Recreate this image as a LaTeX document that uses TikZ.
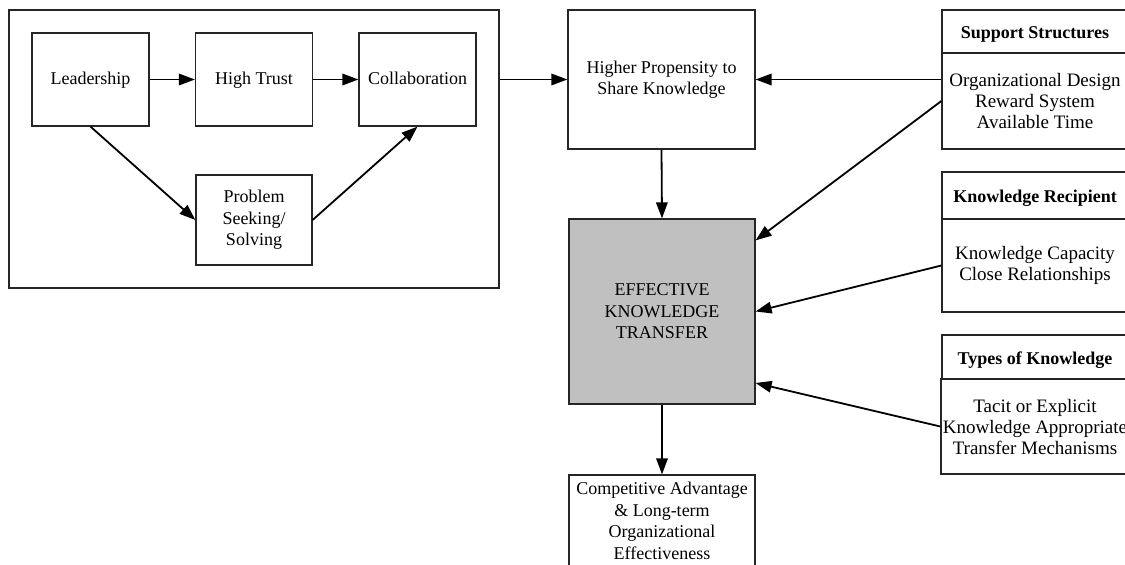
\documentclass[tikz,border=0pt]{standalone}
\usepackage{fontspec}
\setmainfont{Liberation Serif}
\usetikzlibrary{arrows.meta,calc}
\definecolor{ektgray}{RGB}{192,192,192}
\begin{document}
\begin{tikzpicture}[x=1pt,y=-1pt,
  box/.style={draw=black!85, line width=1.2pt, align=center, inner sep=2pt,
              font=\fontsize{18}{21.5}\selectfont},
  small/.style={box, minimum width=117pt, minimum height=93pt,
                text height=14pt, text depth=4pt},
  head/.style={box, minimum width=186pt, text height=18pt, text depth=4pt,
               font=\fontsize{18}{21.5}\selectfont\bfseries},
  body/.style={box, minimum width=186pt, font=\fontsize{19}{21}\selectfont},
  arr/.style={-{Triangle[length=16pt,width=11.5pt]}, line width=1.8pt},
]
\useasboundingbox (0,0) rectangle (1125,565);
\begin{scope}
\clip (0,0) rectangle (1125,565);

% left group
\node[box, minimum width=490pt, minimum height=278pt] (group) at (254,149) {};
\node[small] (lead) at (90.5,79.5) {Leadership};
\node[small] (trust) at (254,79.5) {High Trust};
\node[small] (collab) at (417.5,79.5) {Collaboration};
\node[box, minimum width=116pt, minimum height=90pt] (prob) at (254,220) {Problem\\Seeking/\\Solving};

% central column
\node[box, minimum width=187pt, minimum height=139pt] (hp) at (661.5,79.5) {Higher Propensity to\\Share Knowledge};
\node[box, fill=ektgray, minimum width=186pt, minimum height=185pt] (ekt) at (662,311.5) {EFFECTIVE\\KNOWLEDGE\\TRANSFER};
\node[box, minimum width=186pt, minimum height=92pt] (ca) at (662,521) {Competitive Advantage\\\& Long-term\\Organizational\\Effectiveness};

% right-hand factor boxes
\node[head, minimum height=43pt] (ss-head) at (1035,31.5) {Support Structures};
\node[body, minimum height=96pt] (ss-body) at (1035,101) {Organizational Design\\Reward System\\Available Time};
\node[head, minimum height=47pt] (kr-head) at (1035,195.5) {Knowledge Recipient};
\node[body, minimum height=93pt] (kr-body) at (1035,265.5) {Knowledge Capacity\\Close Relationships};
\node[head, minimum height=44pt] (tk-head) at (1035,357) {Types of Knowledge};
\node[body, minimum height=95pt] (tk-body) at (1035,426.5) {Tacit or Explicit\\Knowledge Appropriate\\Transfer Mechanisms};

% connectors
\draw[arr] (lead) -- (trust);
\draw[arr] (trust) -- (collab);
\draw[arr] (lead.south) -- (prob.west);
\draw[arr] (prob.east) -- (collab.south);
\draw[arr] (group.east |- hp.west) -- (hp.west);
\draw[arr] (ss-body.west |- hp.east) -- (hp.east);
\draw[arr] (ss-body.west) -- ($(ekt.north east)+(0,22)$);
\draw[arr] (hp.south) -- (ekt.north);
\draw[arr] (kr-body.west) -- (ekt.east);
\draw[arr] (tk-body.west) -- ($(ekt.east)+(0,71.5)$);
\draw[arr] (ekt.south) -- (ca.north);
\end{scope}
\end{tikzpicture}
\end{document}
